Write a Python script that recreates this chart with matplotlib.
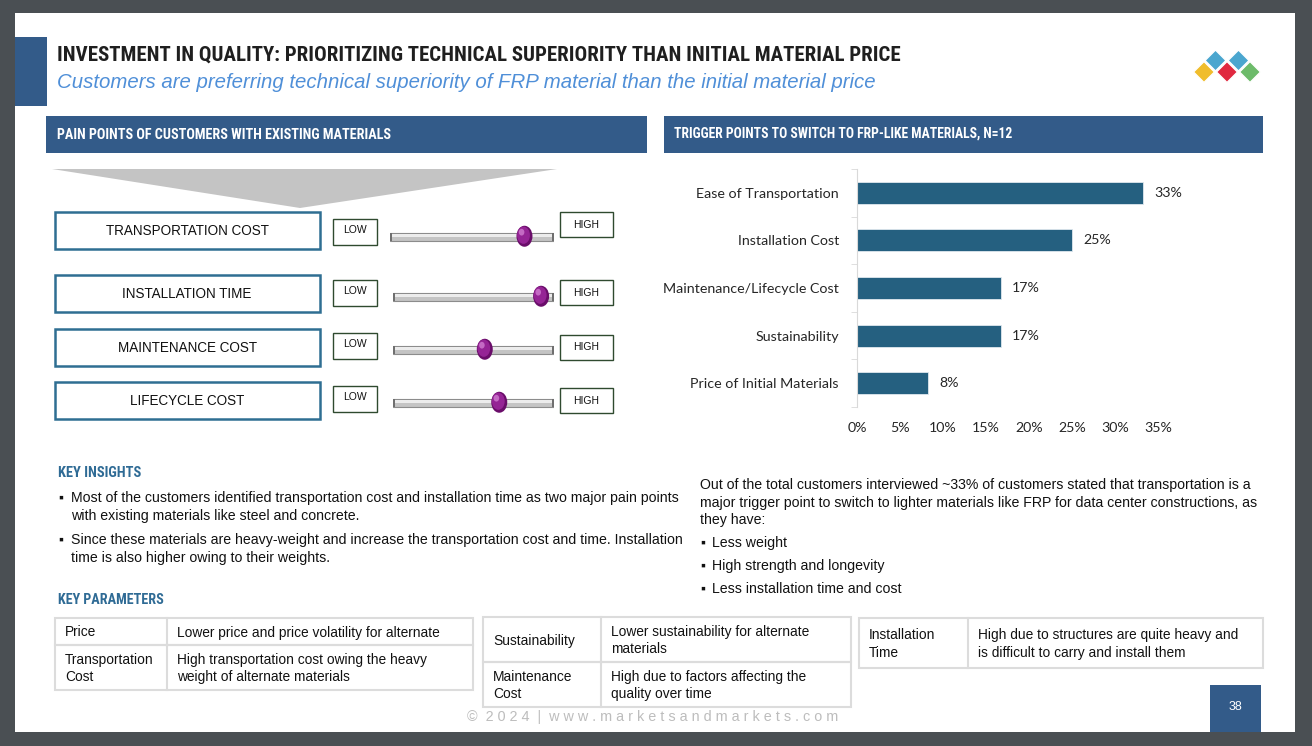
import matplotlib
matplotlib.use("Agg")
import matplotlib.pyplot as plt
from matplotlib.patches import Rectangle, Polygon, Ellipse
from matplotlib import font_manager as fm
from matplotlib.ticker import FixedLocator

W, H = 1312, 746

# ---- data ----
pain_points = ["TRANSPORTATION COST", "INSTALLATION TIME", "MAINTENANCE COST", "LIFECYCLE COST"]
pain_levels = [0.82, 0.92, 0.57, 0.66]  # knob position between LOW (0) and HIGH (1)

triggers = ["Ease of Transportation", "Installation Cost", "Maintenance/Lifecycle Cost",
            "Sustainability", "Price of Initial Materials"]
trigger_share = [33.3, 25.0, 16.7, 16.7, 8.3]
share_ticks = [0, 5, 10, 15, 20, 25, 30, 35]

insights = [
    ["Most of the customers identified transportation cost and installation time as two major pain points",
     "with existing materials like steel and concrete."],
    ["Since these materials are heavy-weight and increase the transportation cost and time. Installation",
     "time is also higher owing to their weights."],
]
trigger_note = ["Out of the total customers interviewed ~33% of customers stated that transportation is a",
                "major trigger point to switch to lighter materials like FRP for data center constructions, as",
                "they have:"]
trigger_bullets = ["Less weight", "High strength and longevity", "Less installation time and cost"]

table_1 = [("Price", "Lower price and price volatility for alternate"),
           ("Transportation\nCost", "High transportation cost owing the heavy\nweight of alternate materials")]
table_2 = [("Sustainability", "Lower sustainability for alternate\nmaterials"),
           ("Maintenance\nCost", "High due to factors affecting the\nquality over time")]
table_3 = [("Installation\nTime", "High due to structures are quite heavy and\nis difficult to carry and install them")]

BLUE = "#335b89"
BAR = "#256080"
TEAL = "#2f6b95"

names = {f.name for f in fm.fontManager.ttflist}


def pick(*cands):
    for c in cands:
        if c in names:
            return c
    return "DejaVu Sans"


COND = pick("Liberation Sans Narrow", "Roboto Condensed", "Liberation Sans")
BODY = pick("Liberation Sans", "Arimo", "DejaVu Sans")
CHART = pick("Lato", "Open Sans", "DejaVu Sans")

fig = plt.figure(figsize=(W / 100, H / 100), dpi=100, facecolor="#4a4f53")
bg = fig.add_axes([0, 0, 1, 1])
bg.set_xlim(0, W)
bg.set_ylim(H, 0)
bg.axis("off")
renderer = fig.canvas.get_renderer()


def txt(x, y, s, width=None, family=BODY, **kw):
    kw.setdefault("va", "center")
    t = bg.text(x, y, s, family=[family, "DejaVu Sans"], **kw)
    if width:
        w = t.get_window_extent(renderer).width
        t.set_fontsize(t.get_fontsize() * width / w)
    return t


def box(x0, y0, x1, y1, **kw):
    bg.add_patch(Rectangle((x0, y0), x1 - x0, y1 - y0, **kw))


# slide
box(15, 13, 1295, 732, fc="white", ec="none")
box(15, 37, 47, 106, fc=BLUE, ec="none")
txt(57, 55, "INVESTMENT IN QUALITY: PRIORITIZING TECHNICAL SUPERIORITY THAN INITIAL MATERIAL PRICE",
    width=840, family=COND, fontsize=16, fontweight="bold", color="#1f1f1f")
txt(57, 82, "Customers are preferring technical superiority of FRP material than the initial material price",
    width=822, fontsize=14, style="italic", color="#4f8fd8")

# logo
for cx, cy, c in [(1215.5, 60.5, "#4aa6cf"), (1238.5, 60.5, "#4aa6cf"),
                  (1204, 72, "#f0bd2c"), (1227, 72, "#e0283f"), (1250, 72, "#6dbb6a")]:
    r = 10.5
    bg.add_patch(Polygon([(cx - r, cy), (cx, cy - r), (cx + r, cy), (cx, cy + r)],
                         fc=c, ec="white", lw=1))

# section headers
box(46, 116, 647, 153, fc=BLUE, ec="none")
txt(57, 135, "PAIN POINTS OF CUSTOMERS WITH EXISTING MATERIALS", width=333, family=COND,
    fontsize=10, fontweight="bold", color="white")
box(664, 116, 1263, 153, fc=BLUE, ec="none")
txt(674, 134, "TRIGGER POINTS TO SWITCH TO FRP-LIKE MATERIALS, N=12", width=337, family=COND,
    fontsize=10, fontweight="bold", color="white")

# funnel
bg.add_patch(Polygon([(52, 169), (557, 169), (300, 208)], fc="#c4c4c4", ec="none"))

# pain point boxes + sliders
rows = [  # box top, low-box top, high-box top, track y, track x0
    (212, 219, 212, 237, 390),
    (275, 280, 280, 297, 393),
    (329, 333, 335, 350, 393),
    (382, 386, 388, 403, 393),
]
size = None
for name, level, (by, ly, hy, ty, tx0) in zip(pain_points, pain_levels, rows):
    box(55, by, 320, by + 37, fc="white", ec="#2f6e92", lw=1.8)
    t = txt(187, by + 19, name, width=None if size else 164, fontsize=10, ha="center", color="#111111")
    size = size or t.get_fontsize()
    t.set_fontsize(size)
    box(333, ly, 377, ly + 26, fc="white", ec="#2f4a2f", lw=1)
    txt(355, ly + 11, "LOW", fontsize=7.5, ha="center", color="#111111")
    box(560, hy, 613, hy + 25, fc="white", ec="#2f4a2f", lw=1)
    txt(586.5, hy + 12.5, "HIGH", fontsize=7.5, ha="center", color="#111111")

    sx = fig.add_axes([tx0 / W, 1 - (ty + 15) / H, (554 - tx0) / W, 30 / H])
    sx.set_xlim(0, 1)
    sx.set_ylim(-1, 1)
    sx.axis("off")
    sx.add_patch(Rectangle((0, -0.27), 1, 0.54, fc="#c4c4c4", ec="#8c8c8c", lw=0.8))
    sx.add_patch(Rectangle((0, 0.02), 1, 0.2, fc="#ececec", ec="none"))
    sx.add_patch(Rectangle((0, -0.27), 0.012, 0.54, fc="#6f6f6f", ec="none"))
    sx.add_patch(Rectangle((0.988, -0.27), 0.012, 0.54, fc="#6f6f6f", ec="none"))
    kw = 16 / (554 - tx0)
    sx.add_patch(Ellipse((level, 0.05), kw, 1.4, fc="#6a0d6a", ec="none", clip_on=False))
    sx.add_patch(Ellipse((level - kw * 0.06, 0.12), kw * 0.8, 1.15, fc="#952495", ec="none", clip_on=False))
    sx.add_patch(Ellipse((level - kw * 0.18, 0.32), kw * 0.35, 0.45, fc="#c46ac4", ec="none", clip_on=False))

# bar chart
ax = fig.add_axes([857 / W, 1 - 407 / H, 301 / W, 238 / H])
ypos = list(range(len(triggers)))
bars = ax.barh(ypos, trigger_share, height=0.46, color=BAR, edgecolor="#dfe8ee", lw=0.6)
ax.bar_label(bars, labels=[f"{v:.0f}%" for v in trigger_share], padding=8,
             fontsize=10.2, color="#262626", family=CHART)
ax.set_xlim(0, 35)
ax.set_ylim(len(triggers) - 0.5, -0.5)
ax.set_yticks(ypos)
ax.set_yticklabels(triggers, fontsize=10.3, color="#262626", family=CHART)
ax.yaxis.set_minor_locator(FixedLocator([i - 0.5 for i in range(len(triggers) + 1)]))
ax.tick_params(axis="y", which="major", length=0, pad=13)
ax.tick_params(axis="y", which="minor", length=4, color="#d9d9d9")
ax.set_xticks(share_ticks)
ax.set_xticklabels([f"{v}%" for v in share_ticks], fontsize=10.2, color="#262626", family=CHART)
ax.tick_params(axis="x", length=0, pad=11)
for s in ["top", "right", "bottom"]:
    ax.spines[s].set_visible(False)
ax.spines["left"].set_color("#d9d9d9")
ax.set_facecolor("none")

# key insights
txt(58, 473, "KEY INSIGHTS", width=83, family=COND, fontsize=10, fontweight="bold", color=TEAL)
body = None
for lines, y in zip(insights, [498, 540]):
    txt(58, y, "\u25aa", fontsize=10, color="#111111")
    t = txt(71, y, lines[0], width=None if body else 608, fontsize=9.5, color="#111111")
    body = body or t.get_fontsize()
    t.set_fontsize(body)
    txt(71, y + 18, lines[1], fontsize=body, color="#111111")
txt(58, 600, "KEY PARAMETERS", width=106, family=COND, fontsize=10, fontweight="bold", color=TEAL)

for line, y in zip(trigger_note, [485, 503, 520]):
    txt(700, y, line, fontsize=body, color="#111111")
for line, y in zip(trigger_bullets, [543, 566, 589]):
    txt(700, y, "\u25aa", fontsize=10, color="#111111")
    txt(712, y, line, fontsize=body, color="#111111")


# tables
def draw_table(rows, x0, x1, xc, ys):
    for (key, val), ya, yb in zip(rows, ys[:-1], ys[1:]):
        box(x0, ya, x1, yb, fc="none", ec="#dcdcdc", lw=1.5)
        bg.plot([xc, xc], [ya, yb], color="#dcdcdc", lw=1.5)
        ym = (ya + yb) / 2 + 1
        txt(x0 + 10, ym, key, fontsize=body - 0.3, color="#111111", linespacing=1.35)
        txt(xc + 10, ym, val, fontsize=body - 0.3, color="#111111", linespacing=1.35)


draw_table(table_1, 55, 473, 167, [618, 645, 690])
draw_table(table_2, 483, 851, 601, [617, 662, 707])
draw_table(table_3, 859, 1263, 968, [618, 668])

# footer
txt(653, 717, "\u00a9  2 0 2 4  |  w w w . m a r k e t s a n d m a r k e t s . c o m", width=373,
    fontsize=8, ha="center", color="#bdbdbd")
box(1210, 685, 1261, 732, fc=BLUE, ec="none")
txt(1235.5, 707, "38", fontsize=9, ha="center", color="white")

fig.savefig("out.png", dpi=100, facecolor=fig.get_facecolor())
